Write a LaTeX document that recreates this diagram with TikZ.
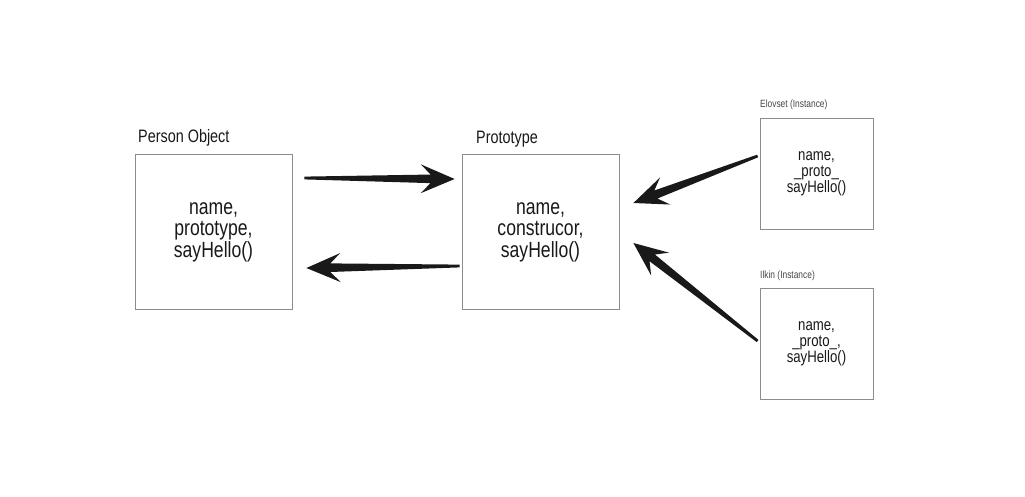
\documentclass[tikz,border=0pt]{standalone}
\usepackage{fontspec}
\setmainfont{Liberation Sans}[FakeStretch=0.8]
\usetikzlibrary{calc}
\definecolor{boxgray}{RGB}{140,140,140}
\definecolor{ink}{RGB}{25,25,25}
\tikzset{
  bigbox/.style={draw=boxgray, line width=0.8pt, minimum width=157pt, minimum height=155pt,
    inner sep=0pt, align=center, text=ink, font=\fontsize{22}{21.5}\selectfont},
  smallbox/.style={draw=boxgray, line width=0.8pt, minimum width=113pt, minimum height=111pt,
    inner sep=0pt, align=center, text=ink, font=\fontsize{16.5}{16}\selectfont},
  biglabel/.style={anchor=base west, inner sep=0pt, text=ink, font=\fontsize{18}{18}\selectfont},
  smalllabel/.style={anchor=base west, inner sep=0pt, text=ink!80, font=\fontsize{10.5}{10.5}\selectfont},
}
\newcommand\taparrow[2]{%
  \coordinate (nk) at ($(#2)!24pt!(#1)$);
  \coordinate (wg) at ($(#2)!34pt!(#1)$);
  \fill[ink] ($(#1)!1.4pt!90:(#2)$) -- ($(nk)!4.3pt!90:(#2)$) -- ($(wg)!14.5pt!90:(#2)$) -- (#2)
    -- ($(wg)!14.5pt!-90:(#2)$) -- ($(nk)!4.3pt!-90:(#2)$) -- ($(#1)!1.4pt!-90:(#2)$) -- cycle;
}
\begin{document}
\begin{tikzpicture}[x=1pt,y=-1pt]
\useasboundingbox[fill=white] (0,0) rectangle (1025,496);
% boxes
\node[bigbox] (person) at (213.5,232) {name,\\prototype,\\sayHello()};
\node[bigbox] (proto) at (540.5,232) {name,\\construcor,\\sayHello()};
\node[smallbox] (elov) at (816.5,174) {name,\\\_proto\_\\sayHello()};
\node[smallbox] (ilkin) at (816.5,343.5) {name,\\\_proto\_,\\sayHello()};
% labels
\node[biglabel] (lperson) at (138,142) {Person Object};
\node[biglabel] (lproto) at (476,143) {Prototype};
\node[smalllabel] (lelov) at (760,107) {Elovset (Instance)};
\node[smalllabel] (lilkin) at (760,278) {Ilkin (Instance)};
% arrow end points
\coordinate (a1s) at ($(person.east)+(12,-54)$);
\coordinate (a1t) at ($(proto.west)+(-7,-53)$);
\coordinate (a2s) at ($(proto.west)+(-2,34)$);
\coordinate (a2t) at ($(person.east)+(14,36)$);
\coordinate (a3s) at ($(elov.west)+(-2,-18)$);
\coordinate (a3t) at ($(proto.east)+(14,-29)$);
\coordinate (a4s) at ($(ilkin.west)+(-2,-2.5)$);
\coordinate (a4t) at ($(proto.east)+(14,11)$);
\taparrow{a1s}{a1t}
\taparrow{a2s}{a2t}
\taparrow{a3s}{a3t}
\taparrow{a4s}{a4t}
\end{tikzpicture}
\end{document}
